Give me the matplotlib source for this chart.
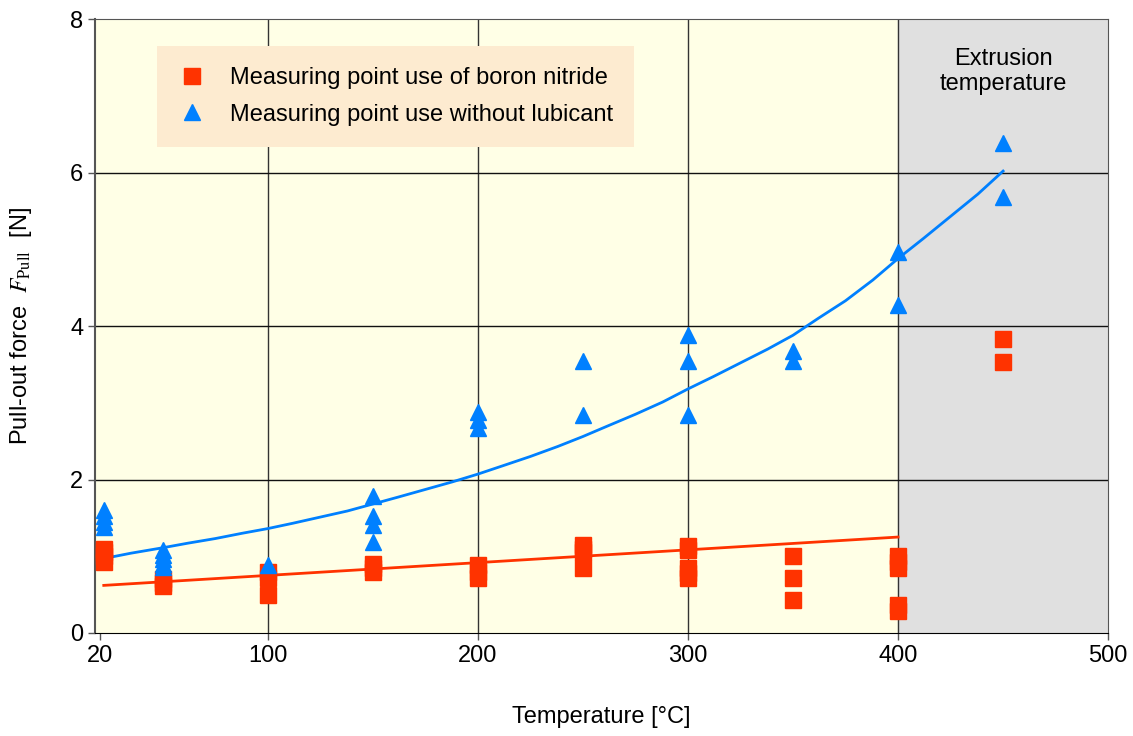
"""
Pull-out force vs. temperature: boron nitride vs. no lubricant
"""

import matplotlib
matplotlib.use("Agg")
import matplotlib.pyplot as plt

plt.rcParams["font.family"] = ["Liberation Sans", "DejaVu Sans"]
plt.rcParams["mathtext.fontset"] = "stix"

# ── data ───────────────────────────────────────────────────────────────
bn_temp = [22, 22, 22, 22,
           50, 50, 50,
           100, 100, 100,
           150, 150, 150,
           200, 200, 200,
           250, 250, 250, 250,
           300, 300, 300, 300, 300,
           350, 350, 350,
           400, 400, 400, 400, 400,
           450, 450]
bn_force = [1.10, 1.05, 1.00, 0.92,
            0.70, 0.65, 0.61,
            0.80, 0.72, 0.50,
            0.90, 0.85, 0.80,
            0.88, 0.80, 0.71,
            1.15, 1.10, 1.05, 0.85,
            1.13, 1.08, 0.85, 0.78, 0.71,
            1.00, 0.72, 0.43,
            1.00, 0.92, 0.85, 0.36, 0.29,
            3.83, 3.53]

dry_temp = [22, 22, 22, 22,
            50, 50, 50, 50, 50,
            100,
            150, 150, 150, 150,
            200, 200, 200,
            250, 250,
            300, 300, 300,
            350, 350,
            400, 400,
            450, 450]
dry_force = [1.60, 1.52, 1.45, 1.38,
             1.08, 1.02, 0.96, 0.90, 0.86,
             0.88,
             1.78, 1.52, 1.41, 1.18,
             2.88, 2.77, 2.67,
             3.55, 2.84,
             3.88, 3.54, 2.84,
             3.68, 3.55,
             4.97, 4.27,
             6.38, 5.68]

# trend curves
dry_fit_temp = [22, 35, 50, 62, 75, 88, 100, 112, 125, 138, 150, 162, 175,
                188, 200, 212, 225, 238, 250, 262, 275, 288, 300, 312, 325,
                338, 350, 362, 375, 388, 400, 412, 425, 438, 450]
dry_fit_force = [0.97, 1.04, 1.11, 1.17, 1.23, 1.30, 1.36, 1.43, 1.51, 1.59,
                 1.68, 1.77, 1.87, 1.97, 2.07, 2.18, 2.30, 2.43, 2.56, 2.70,
                 2.85, 3.01, 3.18, 3.34, 3.52, 3.70, 3.88, 4.10, 4.33, 4.60,
                 4.88, 5.14, 5.43, 5.72, 6.02]
bn_fit_temp = [22, 400]
bn_fit_force = [0.62, 1.25]

x_ticks = [20, 100, 200, 300, 400, 500]
y_ticks = [0, 2, 4, 6, 8]

RED = "#FF3300"
BLUE = "#0080FF"

fig = plt.figure(figsize=(11.33, 7.36), dpi=100)
ax = fig.add_axes([0.0838, 0.14, 0.8943, 0.834])
ax.set_facecolor("#FFFFE6")

# extrusion temperature zone
ax.axvspan(400, 500, color="#E0E0E0", zorder=0)

ax.set_xlim(17.8, 500)
ax.set_ylim(0, 8)
ax.set_xticks(x_ticks)
ax.set_yticks(y_ticks)
ax.tick_params(labelsize=17, length=5, width=1, color="#555555")

for x in x_ticks[1:-1]:
    ax.axvline(x, color="#333333", linewidth=1, zorder=1)
for y in y_ticks[1:-1]:
    ax.axhline(y, color="#111111", linewidth=1, zorder=1)
for side in ["left", "top", "right", "bottom"]:
    ax.spines[side].set_color("#555555")
ax.spines["left"].set_linewidth(1.5)
ax.spines["bottom"].set_color("black")

ax.plot(bn_fit_temp, bn_fit_force, color=RED, linewidth=2, zorder=2)
ax.plot(dry_fit_temp, dry_fit_force, color=BLUE, linewidth=2, zorder=2)

ax.plot(bn_temp, bn_force, "s", color=RED, markersize=11, linestyle="none",
        label="Measuring point use of boron nitride", zorder=3)
ax.plot(dry_temp, dry_force, "^", color=BLUE, markersize=12, linestyle="none",
        label="Measuring point use without lubicant", zorder=3)

leg = ax.legend(loc="upper left", bbox_to_anchor=(0.061, 0.956), fontsize=17,
                frameon=True, fancybox=False, borderpad=0.9, labelspacing=0.6,
                handlelength=1.2, handletextpad=1.0, borderaxespad=0)
leg.get_frame().set_facecolor("#FDEBD0")
leg.get_frame().set_edgecolor("none")
leg.get_frame().set_alpha(1)

ax.text(450, 7.32, "Extrusion\ntemperature", ha="center", va="center",
        fontsize=17, linespacing=1.2)

ax.set_xlabel("Temperature [°C]", fontsize=17, labelpad=28)
ax.set_ylabel(r"Pull-out force  $F_{\mathrm{Pull}}$  [N]", fontsize=17, labelpad=26)

fig.savefig("out.png", dpi=100)
